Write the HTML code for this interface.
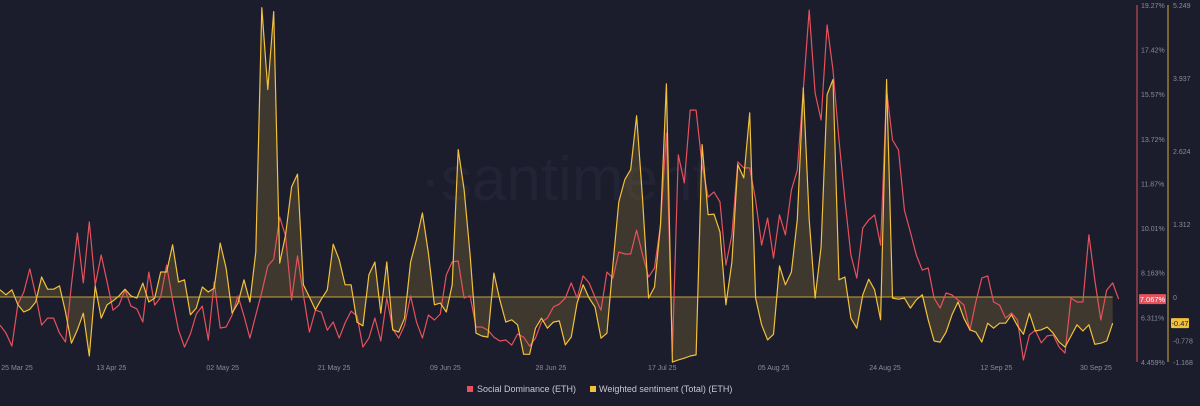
<!DOCTYPE html>
<html><head><meta charset="utf-8"><style>
html,body{margin:0;padding:0;background:#1b1c2c;}
svg{display:block;font-family:"Liberation Sans",sans-serif;}
</style></head><body>
<svg id="chart" width="1200" height="406" viewBox="0 0 1200 406">
<rect width="1200" height="406" fill="#1b1c2c"/>
<text x="565" y="200" font-size="62" fill="#222436" text-anchor="middle">·santiment</text>
<g id="marks"></g>
<g id="axes"></g>
<g>
<rect x="467" y="386" width="6" height="6" fill="#e5525c"/>
<text x="477" y="392" font-size="9" fill="#c8c9d2">Social Dominance (ETH)</text>
<rect x="590" y="386" width="6" height="6" fill="#f2c13c"/>
<text x="599" y="392" font-size="9" fill="#c8c9d2">Weighted sentiment (Total) (ETH)</text>
</g>
</svg>
<script>
const socialDominance=[5.99,5.66,5.12,6.86,7.36,8.32,7.24,5.99,6.28,6.28,5.66,5.29,7.65,9.81,7.74,10.27,7.65,8.90,7.78,6.61,6.82,7.44,6.78,6.66,6.12,8.19,6.82,7.15,8.48,7.03,5.78,5.08,5.62,6.45,6.78,5.37,7.78,5.87,5.91,6.41,7.20,6.37,5.45,6.41,7.36,8.44,8.73,10.47,9.69,
7.03,8.86,7.24,5.70,6.61,6.53,5.78,6.12,5.45,6.08,6.57,6.37,5.08,5.45,6.28,5.33,7.11,5.83,5.45,5.99,7.20,6.12,5.45,6.41,6.20,6.45,8.07,8.61,8.65,7.11,7.20,5.91,5.91,5.78,5.49,5.33,5.37,5.16,5.62,5.49,5.12,5.45,6.12,6.28,6.74,6.86,7.11,7.74,
7.11,8.03,7.74,7.15,6.61,8.19,7.94,9.02,8.94,8.94,9.93,8.90,7.98,8.36,10.14,13.96,4.87,13.05,11.89,14.91,14.91,12.63,11.30,11.51,11.10,8.48,9.73,12.76,12.51,12.51,11.18,9.31,10.43,8.77,10.56,9.73,11.59,12.42,15.74,19.06,15.62,14.50,18.44,
16.57,13.67,11.18,8.90,7.94,10.02,10.35,10.56,9.31,15.74,13.67,13.25,10.76,9.85,8.90,8.27,8.36,7.11,6.70,7.32,7.24,7.03,6.82,5.78,6.95,7.94,8.03,6.95,6.82,6.28,6.49,6.20,4.54,5.58,5.78,5.25,5.54,5.58,5.08,4.83,7.11,6.95,6.95,9.73,7.86,6.20,7.44,7.74,7.067];
const weightedSentiment=[0.13,0.04,0.13,-0.14,-0.27,-0.22,-0.09,0.36,0.14,0.14,0.20,-0.27,-0.83,-0.59,-0.29,-1.06,0.20,-0.38,-0.14,-0.07,0.02,0.14,0.02,-0.02,0.25,-0.09,-0.02,0.45,0.45,0.94,0.27,0.31,-0.32,-0.20,0.18,0.09,0.16,0.97,0.52,-0.29,-0.11,0.31,-0.09,0.81,5.20,3.73,5.13,0.61,1.12,
1.98,2.21,0.22,0,-0.23,-0.04,0.13,0.95,0.67,0.22,0.22,-0.45,-0.52,0.40,0.63,-0.29,0.63,-0.59,-0.63,-0.38,0.63,1.03,1.51,0.79,-0.14,-0.11,-0.27,0.22,2.65,1.93,0.76,-0.65,-0.70,-0.72,0.43,-0.05,-0.45,-0.41,-0.50,-1.03,-1.03,-0.56,-0.38,-0.56,-0.45,-0.43,-0.86,-0.72,
-0.11,0.22,-0.02,-0.18,-0.74,-0.65,0.58,1.71,2.11,2.29,3.26,1.75,-0.02,0.18,1.30,3.83,-1.17,-1.13,-1.10,-1.06,-1.04,2.74,1.48,1.49,1.17,-0.14,0.63,2.38,2.14,3.31,-0.02,-0.50,-0.77,-0.67,0.56,0.22,0.45,1.39,3.76,1.39,-0.02,0.90,3.64,
3.91,0.31,0.36,-0.38,-0.56,0.04,0.32,0.13,-0.41,3.91,-0.02,-0.04,-0.02,-0.20,-0.05,0.04,-0.41,-0.79,-0.81,-0.63,-0.32,-0.09,-0.38,-0.59,-0.63,-0.81,-0.47,-0.56,-0.47,-0.47,-0.32,-0.52,-0.67,-0.29,-0.61,-0.59,-0.54,-0.65,-0.81,-0.90,-0.70,-0.50,-0.61,-0.50,-0.85,-0.83,-0.79,-0.47];
const dateLabels=["25 Mar 25","13 Apr 25","02 May 25","21 May 25","09 Jun 25","28 Jun 25","17 Jul 25","05 Aug 25","24 Aug 25","12 Sep 25","30 Sep 25"];
const dateIndex=[0,19,38,57,76,94,113,132,151,170,187];
const redTicks=["19.27%","17.42%","15.57%","13.72%","11.87%","10.01%","8.163%","6.311%","4.459%"];
const redTickValues=[19.27,17.42,15.57,13.72,11.87,10.01,8.163,6.311,4.459];
const yelTicks=["5.249","3.937","2.624","1.312","0","-0.778","-1.168"];
const yelTickValues=[5.249,3.937,2.624,1.312,0,-0.778,-1.168];

const NS="http://www.w3.org/2000/svg";
const TOP=5,BOT=362;
const xScale=i=>i*5.95;
const yRed=v=>TOP+(19.27-v)/(19.27-4.459)*(BOT-TOP);
const yYel=v=>TOP+(5.249-v)/(5.249+1.168)*(BOT-TOP);
function mk(tag,attrs,parent){const e=document.createElementNS(NS,tag);for(const k in attrs)e.setAttribute(k,attrs[k]);parent.appendChild(e);return e;}
const marks=document.getElementById('marks'),axes=document.getElementById('axes');
const y0=yYel(0);
const yPts=weightedSentiment.map((v,i)=>xScale(i).toFixed(1)+','+yYel(v).toFixed(1));
const lastX=xScale(weightedSentiment.length-1);
const area=mk('polygon',{points:'0,'+y0+' '+yPts.join(' ')+' '+lastX+','+y0,fill:'#6b5a34','fill-opacity':'0.45'},marks);


const zl=mk('line',{x1:0,x2:lastX,y1:y0,y2:y0,stroke:'#c9a43a','stroke-width':1},marks);


const rl=mk('polyline',{points:socialDominance.map((v,i)=>xScale(i).toFixed(1)+','+yRed(v).toFixed(1)).join(' '),fill:'none',stroke:'#e5525c','stroke-width':1.2,'stroke-linejoin':'round'},marks);


const yl=mk('polyline',{points:yPts.join(' '),fill:'none',stroke:'#f2c13c','stroke-width':1.2,'stroke-linejoin':'round'},marks);


const ra=mk('line',{x1:1137,x2:1137,y1:TOP,y2:BOT,stroke:'#e5525c','stroke-width':1},axes);


const ya=mk('line',{x1:1168,x2:1168,y1:TOP,y2:BOT,stroke:'#d7ab3a','stroke-width':1},axes);


redTicks.forEach((t,i)=>{const e=mk('text',{x:1141,y:yRed(redTickValues[i])+3,'font-size':7,fill:'#8a8c9c'},axes);e.textContent=t;

});
yelTicks.forEach((t,i)=>{const e=mk('text',{x:1173,y:yYel(yelTickValues[i])+3,'font-size':7,fill:'#8a8c9c'},axes);e.textContent=t;

});
dateLabels.forEach((t,i)=>{let x=xScale(dateIndex[i])*0.985;x=Math.max(17,Math.min(1098,x));const e=mk('text',{x:x,y:370,'font-size':7,fill:'#8a8c9c','text-anchor':'middle'},axes);e.textContent=t;

});
const lr=socialDominance[socialDominance.length-1],ly=weightedSentiment[weightedSentiment.length-1];
const b1=mk('rect',{x:1139,y:yRed(lr)-5,width:27,height:10,rx:1,fill:'#e5525c'},axes);


const t1=mk('text',{x:1152.5,y:yRed(lr)+3,'font-size':7.5,fill:'#fff','text-anchor':'middle'},axes);t1.textContent=lr.toFixed(3)+'%';


const b2=mk('rect',{x:1171,y:yYel(ly)-5,width:18,height:10,rx:1,fill:'#f2c13c'},axes);


const t2=mk('text',{x:1180,y:yYel(ly)+3,'font-size':7.5,fill:'#1b1c2c','text-anchor':'middle'},axes);t2.textContent=ly.toFixed(2);


</script>
</body></html>
